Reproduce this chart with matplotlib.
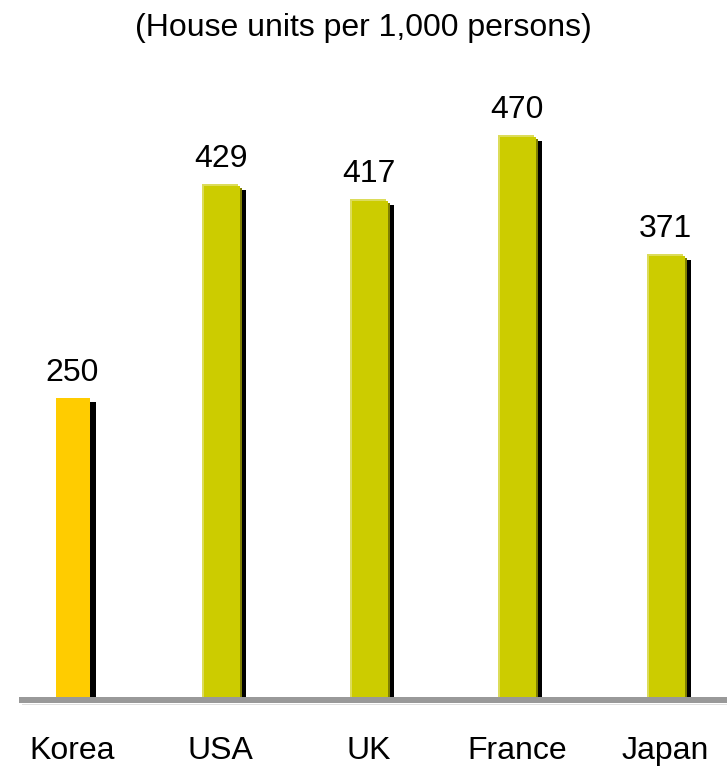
import matplotlib
matplotlib.use("Agg")
import matplotlib.pyplot as plt
import numpy as np

plt.rcParams['font.family'] = ['Liberation Sans', 'DejaVu Sans']

# data
countries = ["Korea", "USA", "UK", "France", "Japan"]
units = [250, 429, 417, 470, 371]
title = "(House units per 1,000 persons)"

W_PX, H_PX = 727, 767
fig = plt.figure(figsize=(W_PX / 100, H_PX / 100), dpi=100)
ax = fig.add_axes([0, 0, 1, 1])

# pixel <-> data mapping
x0_px, step_px = 72.5, 148.3
px_per_unit = 1.195
base_px = 70  # baseline distance from the bottom
ax.set_xlim(-x0_px / step_px, (W_PX - x0_px) / step_px)
ax.set_ylim(-base_px / px_per_unit, (H_PX - base_px) / px_per_unit)
ax.axis("off")

px = 1 / step_px        # one pixel in x data units
py = 1 / px_per_unit    # one pixel in y data units

x = np.arange(len(countries))
vals = np.array(units, dtype=float)
bw = 36 * px

for i, v in zip(x, vals):
    if countries[i] == "Korea":
        # plain bar with a black shadow
        ax.bar(i + 6 * px, v - 4 * py, width=bw - 2 * px, color="black", linewidth=0)
        ax.bar(i, v, width=bw - 2 * px, color="#ffcc00", linewidth=0)
    else:
        # shadow, dark side, light edge, face
        ax.bar(i + 7 * px, v - 6 * py, width=bw, color="black", linewidth=0)
        ax.bar(i + 3 * px, v - 4 * py, width=bw, color="#7f7f00", linewidth=0)
        ax.bar(i - 1 * px, v, width=bw, color="#dcdc5a", linewidth=0)
        ax.bar(i + 1 * px, v - 2 * py, width=bw, color="#cccc00", linewidth=0)
    ax.text(i, v + 17 * py, f"{int(v)}", ha="center", va="baseline",
            fontsize=23, color="black")

# baseline
ax.axhline(-3 * py, xmin=21.7 / W_PX, xmax=1, color="#999999", linewidth=6 * 0.72)
ax.axhline(-7 * py, xmin=21.7 / W_PX, xmax=1, color="#e0e0e0", linewidth=1 * 0.72)

# category labels
for i, name in zip(x, countries):
    ax.text(i, (8 - base_px) * py, name, ha="center", va="baseline",
            fontsize=23, color="black")

fig.text(0.5, 1 - 36 / H_PX, title, ha="center", va="baseline",
         fontsize=23, color="black")

fig.savefig("out.png", dpi=100)
